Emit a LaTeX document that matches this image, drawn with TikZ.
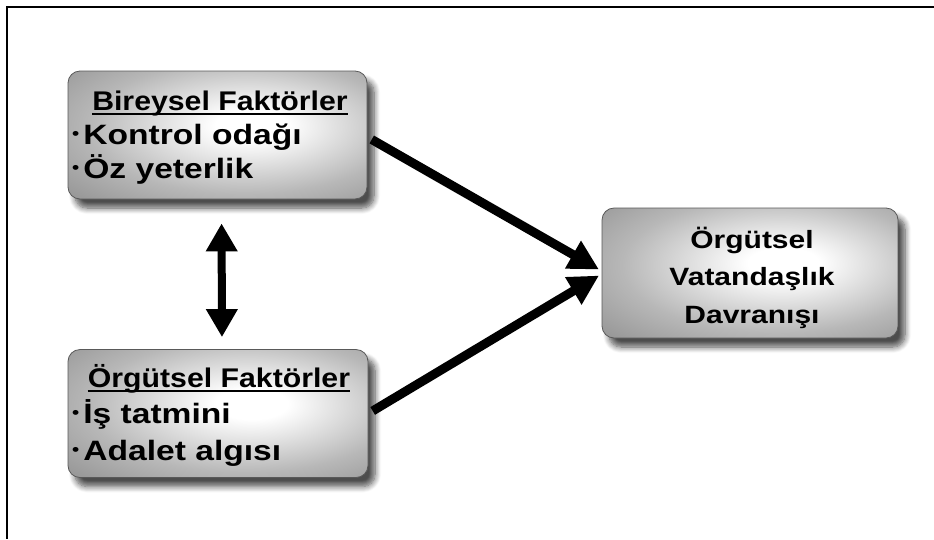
\documentclass[tikz,border=0pt]{standalone}
\usepackage{fontspec}
\setmainfont{Liberation Sans}[FakeStretch=1.12]
\newfontfamily\itemfont{Liberation Sans}[FakeStretch=1.2]
\usetikzlibrary{arrows.meta,shadows.blur}
\pgfdeclareradialshading{boxshade}{\pgfpoint{6bp}{4bp}}{%
  color(0bp)=(white); color(6bp)=(white); color(26bp)=(black!28); color(48bp)=(black!50); color(100bp)=(black!55)}
\begin{document}
\begin{tikzpicture}[x=1pt,y=-1pt,
  box/.style={rounded corners=12pt, draw=black!65, line width=0.8pt,
    shading=boxshade,
    minimum width=#1, minimum height=128pt, inner sep=0pt,
    blur shadow={shadow xshift=7pt, shadow yshift=-9pt, shadow blur steps=8,
      shadow blur radius=6pt, shadow opacity=70}},
  ttl/.style={font=\fontsize{27}{33}\selectfont\bfseries, inner sep=0pt},
  itm/.style={font=\itemfont\fontsize{28}{33}\selectfont\bfseries, inner sep=0pt},
  ctr/.style={font=\itemfont\fontsize{25}{33}\selectfont\bfseries, inner sep=0pt},
  uline/.style={line width=2pt},
  big/.style={line width=9pt, -{Triangle[width=30pt,length=30pt]}},
  dbl/.style={line width=8pt, {Triangle[width=30pt,length=28pt]}-{Triangle[width=30pt,length=28pt]}},
  frameline/.style={line width=2.6pt},
]
\useasboundingbox (0,0) rectangle (934,539);
\draw[frameline] (934,7) -- (7,7) -- (7,539);

\node[box=299pt] (b1) at (217.5,135) {};
\node[box=300pt] (b2) at (218,413.5) {};
\node[box=296pt, minimum height=130pt] (b3) at (750,273) {};

\newcommand{\bul}{\raisebox{5pt}{\fontsize{17}{17}\selectfont •}\hspace{4pt}}

\node[ttl, anchor=base] (t1a) at (220,110) {Bireysel Faktörler};
\draw[uline] ([yshift=-4pt]t1a.base west) -- ([yshift=-4pt]t1a.base east);
\node[itm, anchor=base west] (t1b) at (72,144) {\bul Kontrol odağı};
\node[itm, anchor=base west] (t1c) at (72,178) {\bul Öz yeterlik};

\node[ttl, anchor=base] (t2a) at (219,387) {Örgütsel Faktörler};
\draw[uline] ([yshift=-4pt]t2a.base west) -- ([yshift=-4pt]t2a.base east);
\node[itm, anchor=base west] (t2b) at (72,423) {\bul İş tatmini};
\node[itm, anchor=base west] (t2c) at (72,460) {\bul Adalet algısı};

\node[ctr, anchor=base] (t3a) at (752,248) {Örgütsel};
\node[ctr, anchor=base] (t3b) at (752,285) {Vatandaşlık};
\node[ctr, anchor=base] (t3c) at (752,323) {Davranışı};

\draw[big, shorten <=5pt, shorten >=3pt] ([yshift=-2pt]b1.east) -- ([yshift=2pt]b3.west);
\draw[big, shorten <=5pt, shorten >=3pt] (b2.east) -- ([yshift=-1pt]b3.west);
\draw[dbl, shorten <=24pt, shorten >=12pt] ([xshift=4pt]b1.south) -- ([xshift=4pt]b2.north);
\end{tikzpicture}
\end{document}
